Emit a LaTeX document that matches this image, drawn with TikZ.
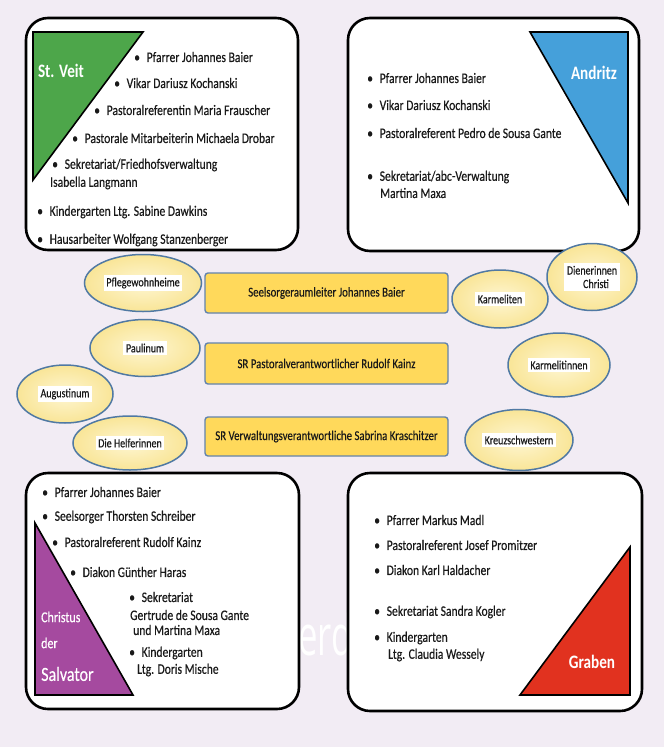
\documentclass[tikz,border=0pt]{standalone}
\usepackage{fontspec}
\setmainfont[FakeStretch=0.8, UprightFeatures={FakeBold=0.35}]{Carlito}
\newfontfamily\markfont[FakeStretch=0.62]{Open Sans}
\definecolor{pageBack}{HTML}{F2ECF4}
\definecolor{veitGreen}{HTML}{4DA64A}
\definecolor{andritzBlue}{HTML}{45A0DA}
\definecolor{salvatorPurple}{HTML}{A54A9F}
\definecolor{grabenRed}{HTML}{E1321F}
\definecolor{officeGold}{HTML}{FFD95B}
\definecolor{officeEdge}{HTML}{6383AC}
\definecolor{houseIn}{HTML}{FEF6D2}
\definecolor{houseOut}{HTML}{F9E597}
\definecolor{houseEdge}{HTML}{5079A3}
\usetikzlibrary{shapes.geometric}
\newcommand{\pitem}[1]{\makebox[12.5pt][l]{\textbullet}#1}

\begin{document}
\begin{tikzpicture}[
    x=1pt, y=-1pt,
    parish/.style={
      draw=black,
      fill=white,
      line width=2.6pt,
      rounded corners=22pt,
      inner sep=0pt,
    },
    wedge/.style={draw=black, line width=1.6pt, line join=miter},
    person/.style={anchor=west, inner sep=0pt, text=black!90, font=\fontsize{14.5}{16}\selectfont},
    parishname/.style={inner sep=0pt, text=white, font=\fontsize{19}{21}\selectfont\bfseries},
    office/.style={
      draw=officeEdge,
      fill=officeGold,
      line width=1.4pt,
      rounded corners=3pt,
      minimum width=243pt,
      text=black!90,
      font=\fontsize{13.5}{15}\selectfont,
    },
    house/.style={ellipse, draw=houseEdge, line width=1.5pt, shade, inner color=houseIn, outer color=houseOut, inner sep=0pt},
    tag/.style={fill=white, inner sep=2.5pt, align=center, text=black!90, font=\fontsize{12.5}{13.5}\selectfont},
  ]
    \useasboundingbox (0,0) rectangle (664,747);
    \fill[pageBack] (0,0) rectangle (664,747);

    % faint lettering behind the lower boxes
    \node[anchor=base west, inner sep=0pt, text=white, font=\markfont\fontsize{56}{60}\selectfont] (mark) at (298,655) {erd};

    % St. Veit
    \node[parish, minimum width=272pt, minimum height=232pt] (veit) at (162,134) {};
    \draw[wedge, fill=veitGreen] (33,32) -- (143,32) -- (33,180) -- cycle;
    \node[parishname] (veitname) at (61,71) {St. Veit};
    \node[person] (v1) at (134,57) {\pitem{Pfarrer Johannes Baier}};
    \node[person] (v2) at (114,83) {\pitem{Vikar Dariusz Kochanski}};
    \node[person] (v3) at (94,110) {\pitem{Pastoralreferentin Maria Frauscher}};
    \node[person] (v4) at (72,138) {\pitem{Pastorale Mitarbeiterin Michaela Drobar}};
    \node[person] (v5) at (52,165) {\pitem{Sekretariat/Friedhofsverwaltung}};
    \node[person] (v5b) at (50,183) {Isabella Langmann};
    \node[person] (v6) at (37,212) {\pitem{Kindergarten Ltg. Sabine Dawkins}};
    \node[person] (v7) at (37,240) {\pitem{Hausarbeiter Wolfgang Stanzenberger}};

    % Andritz
    \node[parish, minimum width=291pt, minimum height=233pt] (andritz) at (493.5,134.5) {};
    \draw[wedge, fill=andritzBlue] (530,32) -- (628,32) -- (628,203) -- cycle;
    \node[parishname] (andritzname) at (594,73) {Andritz};
    \node[person] (a1) at (367,78) {\pitem{Pfarrer Johannes Baier}};
    \node[person] (a2) at (367,105) {\pitem{Vikar Dariusz Kochanski}};
    \node[person] (a3) at (367,133) {\pitem{Pastoralreferent Pedro de Sousa Gante}};
    \node[person] (a4) at (367,177) {\pitem{Sekretariat/abc-Verwaltung}};
    \node[person] (a4b) at (380,193) {Martina Maxa};

    % Christus der Salvator
    \node[parish, minimum width=273pt, minimum height=236pt] (salvator) at (162.5,591) {};
    \draw[wedge, fill=salvatorPurple] (35,523) -- (35,695) -- (133,695) -- cycle;
    \node[parishname, anchor=west, font=\fontsize{15}{17}\selectfont] (salvname1) at (41,617) {Christus};
    \node[parishname, anchor=west, font=\fontsize{15}{17}\selectfont] (salvname2) at (41,643) {der};
    \node[parishname, anchor=west, font=\fontsize{20}{22}\selectfont] (salvname3) at (41,674) {Salvator};
    \node[person] (s1) at (42,492) {\pitem{Pfarrer Johannes Baier}};
    \node[person] (s2) at (42,517) {\pitem{Seelsorger Thorsten Schreiber}};
    \node[person] (s3) at (52,542) {\pitem{Pastoralreferent Rudolf Kainz}};
    \node[person] (s4) at (70,572) {\pitem{Diakon Günther Haras}};
    \node[person] (s5) at (129,597) {\pitem{Sekretariat}};
    \node[person] (s5b) at (130,615) {Gertrude de Sousa Gante};
    \node[person] (s5c) at (133,630) {und Martina Maxa};
    \node[person] (s6) at (129,653) {\pitem{Kindergarten}};
    \node[person] (s6b) at (137,670) {Ltg. Doris Mische};

    % Graben
    \node[parish, minimum width=294pt, minimum height=238pt] (graben) at (495,592) {};
    \draw[wedge, fill=grabenRed] (630,547) -- (630,695) -- (520,695) -- cycle;
    \node[parishname] (grabenname) at (592,662) {Graben};
    \node[person] (g1) at (374,520) {\pitem{Pfarrer Markus Madl}};
    \node[person] (g2) at (374,545) {\pitem{Pastoralreferent Josef Promitzer}};
    \node[person] (g3) at (374,570) {\pitem{Diakon Karl Haldacher}};
    \node[person] (g4) at (374,612) {\pitem{Sekretariat Sandra Kogler}};
    \node[person] (g5) at (374,638) {\pitem{Kindergarten}};
    \node[person] (g5b) at (388,655) {Ltg. Claudia Wessely};

    % Seelsorgeraum leadership
    \node[office, minimum height=40pt] (leiter) at (326.5,293) {Seelsorgeraumleiter Johannes Baier};
    \node[office, minimum height=41pt] (pastoral) at (326.5,363.5) {SR Pastoralverantwortlicher Rudolf Kainz};
    \node[office, minimum height=39pt] (verwaltung) at (326.5,436.5) {SR Verwaltungsverantwortliche Sabrina Kraschitzer};

    % houses and orders
    \node[house, minimum width=117pt, minimum height=57pt] (pflege) at (143,283) {};
    \node[tag] (pflegetag) at (pflege) {Pflegewohnheime};
    \node[house, minimum width=110pt, minimum height=57pt] (paulinum) at (145,348) {};
    \node[tag] (paulinumtag) at (paulinum) {Paulinum};
    \node[house, minimum width=96pt, minimum height=58pt] (augustinum) at (65,394) {};
    \node[tag] (augustinumtag) at (augustinum) {Augustinum};
    \node[house, minimum width=114pt, minimum height=54pt] (helfer) at (130,443) {};
    \node[tag] (helfertag) at (helfer) {Die Helferinnen};
    \node[house, minimum width=96pt, minimum height=58pt] (karmeliten) at (500,299) {};
    \node[tag] (karmelitentag) at (karmeliten) {Karmeliten};
    \node[house, minimum width=90pt, minimum height=67pt] (dienerinnen) at (592,277) {};
    \node[tag] (dienerinnentag) at (dienerinnen) {Dienerinnen\\\hspace{8pt}Christi};
    \node[house, minimum width=102pt, minimum height=64pt] (karmelitinnen) at (559,365) {};
    \node[tag] (karmelitinnentag) at (karmelitinnen) {Karmelitinnen};
    \node[house, minimum width=108pt, minimum height=61pt] (kreuz) at (519,440) {};
    \node[tag] (kreuztag) at (kreuz) {Kreuzschwestern};
  \end{tikzpicture}
\end{document}
